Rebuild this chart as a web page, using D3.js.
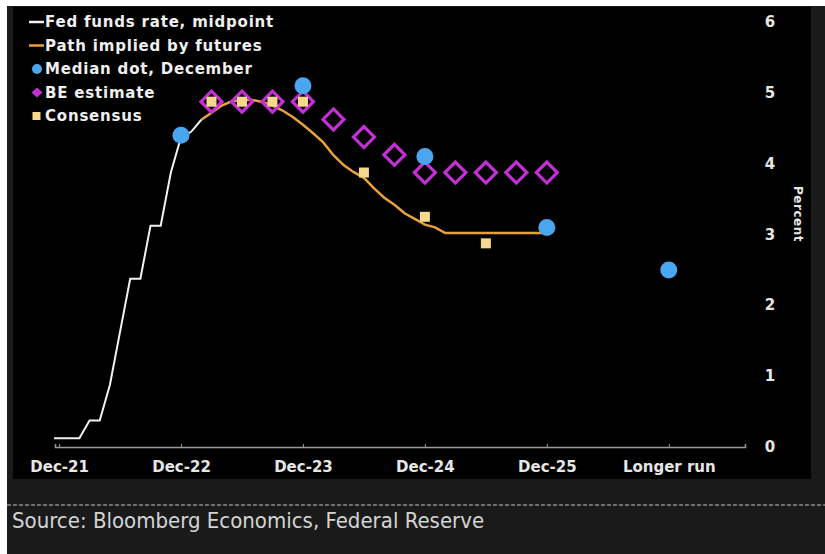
<!DOCTYPE html>
<html>
<head>
<meta charset="utf-8">
<script src="https://cdn.jsdelivr.net/npm/d3@7"></script>
<style>
body{margin:0;background:#fff}
svg{display:block}
text{font-family:"DejaVu Sans",sans-serif}
</style>
</head>
<body>
<svg id="chart" width="825" height="554"></svg>
<script>
// month index: 0 = Dec-21, 12 = Dec-22 ... 48 = Dec-25, 60 = longer run
var tickMonths = [0,12,24,36,48,60]
var tickLabels = ["Dec-21","Dec-22","Dec-23","Dec-24","Dec-25","Longer run"]
var yTicks = [0,1,2,3,4,5,6]

var fedMonths = [-0.5,0,1,2,3,4,5,6,7,8,9,10,11,12,13,14]
var fedValues = [0.125,0.125,0.125,0.125,0.375,0.375,0.875,1.625,2.375,2.375,3.125,3.125,3.875,4.375,4.45,4.62]

var futMonths = [14,15,16,17,18,19,20,21,22,23,24,25,26,27,28,29,30,31,32,33,34,35,36,37,38,39,40,41,42,43,44,45,46,47,48]
var futValues = [4.62,4.72,4.82,4.88,4.9,4.9,4.87,4.82,4.75,4.66,4.55,4.43,4.3,4.12,3.98,3.88,3.8,3.65,3.52,3.42,3.3,3.22,3.14,3.1,3.02,3.02,3.02,3.02,3.02,3.02,3.02,3.02,3.02,3.02,3.02]

var dotMonths = [12,24,36,48,60]
var dotValues = [4.4,5.1,4.1,3.1,2.5]

var beMonths = [15,18,21,24,27,30,33,36,39,42,45,48]
var beValues = [4.875,4.875,4.875,4.875,4.625,4.375,4.125,3.875,3.875,3.875,3.875,3.875]

var consMonths = [15,18,21,24,30,36,42]
var consValues = [4.875,4.875,4.875,4.875,3.875,3.25,2.875]

var legendItems = ["Fed funds rate, midpoint","Path implied by futures","Median dot, December","BE estimate","Consensus"]

var colors = {white:"#f2f2f2",orange:"#e9a23b",blue:"#4aa6ef",magenta:"#c42fd6",yellow:"#f6d98c"}

var svg = d3.select("#chart")

// background frame
svg.append("rect").attr("x",7).attr("y",6).attr("width",818).attr("height",548).attr("fill","#1a1a1a")
svg.append("rect").attr("x",13).attr("y",7).attr("width",798).attr("height",472).attr("fill","#000")
svg.append("line").attr("x1",7).attr("x2",825).attr("y1",505).attr("y2",505)
    .attr("stroke","#8a8a8a").attr("stroke-width",1.5).attr("stroke-dasharray","4,2")

var x = d3.scaleLinear().domain([-0.4,67.5]).range([55,745])
var y = d3.scaleLinear().domain([0,6]).range([447,22])

// x axis
var xAxis = d3.axisBottom(x).tickValues(tickMonths).tickSize(-3)
    .tickFormat(function(d,i){return tickLabels[i]})
var gx = svg.append("g").attr("transform","translate(0,"+y(0)+")").call(xAxis)
gx.select(".domain").attr("stroke","#9a9a9a").attr("stroke-width",1.5)
gx.selectAll(".tick line").attr("stroke","#9a9a9a")
gx.selectAll(".tick text").attr("fill","#e6e6e6").attr("font-size",15).attr("font-weight","bold")
    .attr("font-family","DejaVu Sans").attr("y",20).attr("dy","0.35em")

// y labels on right
svg.selectAll(".ylab").data(yTicks).enter().append("text")
    .attr("class","ylab")
    .attr("x",770).attr("y",function(d){return y(d)})
    .attr("text-anchor","middle").attr("dominant-baseline","central")
    .attr("fill","#e6e6e6").attr("font-size",15).attr("font-weight","bold")
    .text(function(d){return d})

svg.append("text").text("Percent")
    .attr("transform","translate(798,214) rotate(90)")
    .attr("text-anchor","middle").attr("dominant-baseline","central")
    .attr("fill","#e6e6e6").attr("font-size",12).attr("font-weight","bold").attr("letter-spacing",0.5)

// lines
var fedData = fedMonths.map(function(m,i){return [m,fedValues[i]]})
var futData = futMonths.map(function(m,i){return [m,futValues[i]]})
var line = d3.line().x(function(d){return x(d[0])}).y(function(d){return y(d[1])})

svg.append("path").datum(fedData).attr("d",line)
    .attr("fill","none").attr("stroke",colors.white).attr("stroke-width",2)
svg.append("path").datum(futData).attr("d",line)
    .attr("fill","none").attr("stroke",colors.orange).attr("stroke-width",2.5)

// BE diamonds
var dsz = 10.5
svg.selectAll(".be").data(beMonths).enter().append("path")
    .attr("class","be")
    .attr("d",function(d,i){
        var cx = x(d), cy = y(beValues[i])
        return "M"+cx+","+(cy-dsz)+"L"+(cx+dsz)+","+cy+"L"+cx+","+(cy+dsz)+"L"+(cx-dsz)+","+cy+"Z"
    })
    .attr("fill","none").attr("stroke",colors.magenta).attr("stroke-width",3.2)

// consensus squares
var sq = 10
svg.selectAll(".cons").data(consMonths).enter().append("rect")
    .attr("class","cons")
    .attr("x",function(d){return x(d)-sq/2})
    .attr("y",function(d,i){return y(consValues[i])-sq/2})
    .attr("width",sq).attr("height",sq).attr("fill",colors.yellow)

// median dots
svg.selectAll(".dot").data(dotMonths).enter().append("circle")
    .attr("class","dot")
    .attr("cx",function(d){return x(d)})
    .attr("cy",function(d,i){return y(dotValues[i])})
    .attr("r",8.5).attr("fill",colors.blue)

// legend
var lg = svg.append("g")
lg.selectAll("text").data(legendItems).enter().append("text")
    .attr("x",45).attr("y",function(d,i){return 22+i*23.5})
    .attr("dominant-baseline","central")
    .attr("fill","#f0f0f0").attr("font-size",15).attr("font-weight","bold").attr("letter-spacing",0.8)
    .text(function(d){return d})
lg.append("line").attr("x1",29).attr("x2",44).attr("y1",22).attr("y2",22).attr("stroke",colors.white).attr("stroke-width",2.5)
lg.append("line").attr("x1",29).attr("x2",44).attr("y1",45.5).attr("y2",45.5).attr("stroke",colors.orange).attr("stroke-width",2.5)
lg.append("circle").attr("cx",37).attr("cy",69).attr("r",5).attr("fill",colors.blue)
lg.append("path").attr("d","M37,87.5L42.5,92.5L37,97.5L31.5,92.5Z").attr("fill",colors.magenta)
lg.append("rect").attr("x",32.5).attr("y",112).attr("width",8).attr("height",8).attr("fill",colors.yellow)

// source
svg.append("text").text("Source: Bloomberg Economics, Federal Reserve")
    .attr("x",12).attr("y",528)
    .attr("fill","#d4d4d4").attr("font-size",22)
    .attr("font-family","'DejaVu Sans Condensed','DejaVu Sans',sans-serif")
    .attr("font-stretch","condensed")
</script>
</body>
</html>
